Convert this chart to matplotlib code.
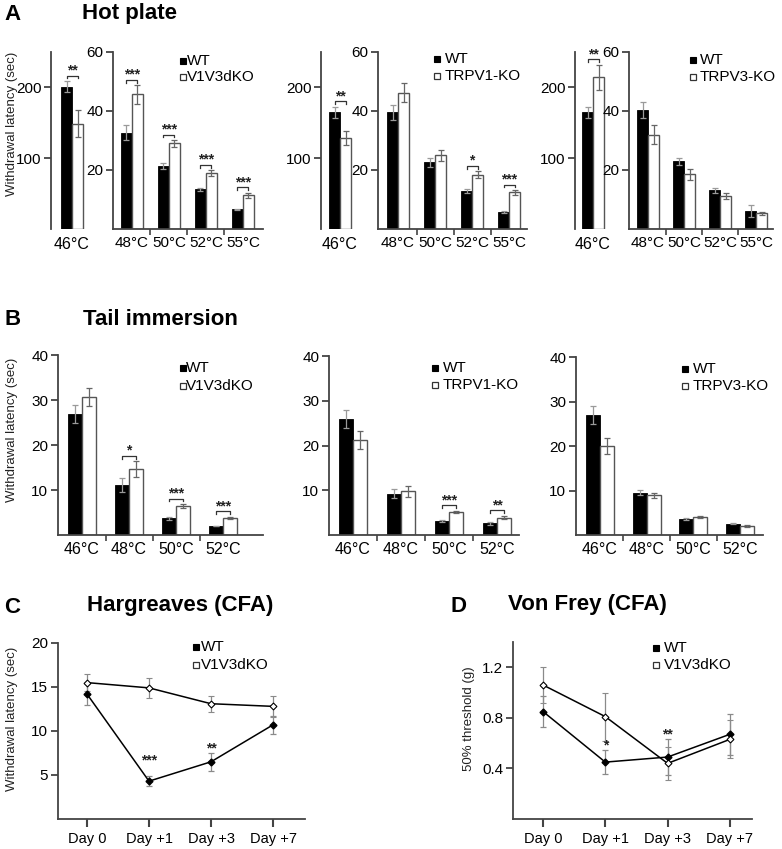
import matplotlib
matplotlib.use('Agg')
import matplotlib.pyplot as plt
from matplotlib.patches import Rectangle
import numpy as np

plt.rcParams['font.family'] = ['Liberation Sans', 'DejaVu Sans']

# ---------------- data ----------------
ko_names = ['V1V3dKO', 'TRPV1-KO', 'TRPV3-KO']

hot_low_cats = ['46°C']
hot_high_cats = ['48°C', '50°C', '52°C', '55°C']
tail_cats = ['46°C', '48°C', '50°C', '52°C']
days = ['Day 0', 'Day +1', 'Day +3', 'Day +7']

# Hot plate 46°C (per KO line)
hp46_wt = [201, 165, 165]
hp46_wt_err = [8, 8, 8]
hp46_ko = [149, 128, 214]
hp46_ko_err = [19, 10, 18]
hp46_sig = ['**', '**', '**']

# Hot plate 48-55°C
hp_wt = [[32.7, 21.4, 13.4, 6.7],
         [39.5, 22.6, 12.9, 5.8],
         [40.3, 23.0, 13.1, 6.1]]
hp_wt_err = [[2.5, 1.0, 0.5, 0.2],
             [2.7, 1.5, 0.7, 0.4],
             [2.7, 1.2, 0.8, 2.0]]
hp_ko = [[45.6, 29.0, 18.9, 11.4],
         [46.2, 25.0, 18.4, 12.4],
         [31.9, 18.6, 11.2, 5.3]]
hp_ko_err = [[3.1, 1.2, 1.0, 0.9],
             [3.3, 1.8, 1.2, 0.8],
             [3.2, 1.9, 1.0, 0.5]]
hp_sig = [['***', '***', '***', '***'],
          ['', '', '*', '***'],
          ['', '', '', '']]

# Tail immersion
tail_wt = [[27.0, 11.1, 3.7, 2.0],
           [26.0, 9.2, 3.2, 2.6],
           [26.9, 9.5, 3.6, 2.5]]
tail_wt_err = [[2.0, 1.5, 0.4, 0.1],
               [2.0, 1.0, 0.2, 0.3],
               [2.0, 0.6, 0.2, 0.1]]
tail_ko = [[30.7, 14.7, 6.4, 3.85],
           [21.3, 9.8, 5.2, 3.9],
           [20.0, 8.9, 4.1, 2.0]]
tail_ko_err = [[2.0, 1.7, 0.5, 0.2],
               [2.0, 1.2, 0.2, 0.4],
               [1.8, 0.6, 0.2, 0.2]]
tail_sig = [['', '*', '***', '***'],
            ['', '', '***', '**'],
            ['', '', '', '']]

# Hargreaves (CFA)
harg_wt = [14.2, 4.3, 6.5, 10.7]
harg_wt_err = [1.3, 0.6, 1.0, 1.0]
harg_ko = [15.5, 14.9, 13.1, 12.8]
harg_ko_err = [1.0, 1.1, 0.9, 1.2]
harg_sig = ['', '***', '**', '']
harg_sig_y = [0, 6.6, 8.0, 0]

# Von Frey (CFA)
vf_wt = [0.85, 0.45, 0.49, 0.67]
vf_wt_err = [0.12, 0.095, 0.14, 0.16]
vf_ko = [1.06, 0.81, 0.44, 0.63]
vf_ko_err = [0.14, 0.19, 0.13, 0.15]
vf_sig = ['', '*', '**', '']
vf_sig_y = [0, 0.58, 0.67, 0]

# ---------------- figure ----------------
W, H = 782, 849
fig = plt.figure(figsize=(W / 100, H / 100), dpi=100)

SPINE = '#444444'


def make_axes(left, right, top, bottom, center0, unit, bottom_spine=True):
    ax = fig.add_axes([left / W, 1 - bottom / H, (right - left) / W, (bottom - top) / H])
    ax.set_xlim(-(center0 - left) / unit, (right - center0) / unit)
    for s in ['top', 'right']:
        ax.spines[s].set_visible(False)
    for s in ['left', 'bottom']:
        ax.spines[s].set_color(SPINE)
        ax.spines[s].set_linewidth(1.3)
    if not bottom_spine:
        ax.spines['bottom'].set_visible(False)
    ax.tick_params(axis='y', labelsize=11, length=5, width=1.3, color=SPINE, pad=2)
    ax.tick_params(axis='x', labelsize=11, length=0, pad=4)
    ax.patch.set_alpha(0)
    return ax


def draw_bars(ax, cats, wt, wt_err, ko, ko_err, sig, width, yr, sep=True, star_fs=10):
    x = np.arange(len(cats))
    ax.bar(x - width / 2, wt, width, color='black', edgecolor='black', linewidth=0.6, zorder=2)
    ax.bar(x + width / 2, ko, width, color='white', edgecolor='#555555', linewidth=1.0, zorder=2)
    ax.errorbar(x - width / 2, wt, yerr=wt_err, fmt='none', ecolor='#9a9a9a',
                elinewidth=0.9, capsize=2, capthick=0.9, zorder=3)
    ax.errorbar(x + width / 2, ko, yerr=ko_err, fmt='none', ecolor='#666666',
                elinewidth=0.9, capsize=2, capthick=0.9, zorder=3)
    for i, s in enumerate(sig):
        if not s:
            continue
        top = max(wt[i] + wt_err[i], ko[i] + ko_err[i]) + 0.03 * yr
        ax.plot([x[i] - width / 2, x[i] - width / 2, x[i] + width / 2, x[i] + width / 2],
                [top - 0.015 * yr, top, top, top - 0.015 * yr], color='#333333', lw=0.9, zorder=3)
        ax.text(x[i], top - 0.01 * yr, s, ha='center', va='bottom', fontsize=star_fs,
                fontweight='bold', color='#222222')
    ax.set_xticks(x)
    ax.set_xticklabels(cats)
    if sep and len(cats) > 1:
        ax.set_xticks(x[:-1] + 0.5, minor=True)
        ax.tick_params(axis='x', which='minor', length=4, width=1.2, color=SPINE)


def legend_px(x_sq, x_txt, y_wt, y_ko, ko_label, fs=11):
    s = 6
    fig.add_artist(Rectangle(((x_sq) / W, 1 - (y_wt + s / 2) / H), s / W, s / H,
                             transform=fig.transFigure, facecolor='black', edgecolor='black', lw=0.8))
    fig.add_artist(Rectangle(((x_sq) / W, 1 - (y_ko + s / 2) / H), s / W, s / H,
                             transform=fig.transFigure, facecolor='white', edgecolor='#333333', lw=0.9))
    fig.text(x_txt / W, 1 - y_wt / H, 'WT', ha='left', va='center', fontsize=fs)
    fig.text(x_txt / W, 1 - y_ko / H, ko_label, ha='left', va='center', fontsize=fs)


def ftext(x, y, s, **kw):
    fig.text(x / W, 1 - y / H, s, **kw)


# ---------------- Panel A: Hot plate ----------------
A_top, A_bot = 52, 229
low_geo = [(51, 88, 72, 22), (321, 357, 340, 24), (575, 610, 593, 21)]
high_geo = [(113, 263, 132, 37), (378, 527, 398, 37), (629, 773, 648, 36)]
legA = [(180, 187, 61, 77), (434, 445, 59, 76), (690, 700, 60, 77)]

for k in range(3):
    l, r, c, u = low_geo[k]
    ax = make_axes(l, r, A_top, A_bot, c, u, bottom_spine=False)
    ax.set_ylim(0, 250)
    ax.set_yticks([100, 200])
    draw_bars(ax, hot_low_cats, [hp46_wt[k]], [hp46_wt_err[k]], [hp46_ko[k]], [hp46_ko_err[k]],
              [hp46_sig[k]], 11 / u, 250, sep=False)
    ax.tick_params(axis='x', labelsize=11.5, pad=6)

    l, r, c, u = high_geo[k]
    ax = make_axes(l, r, A_top, A_bot, c, u)
    ax.set_ylim(0, 60)
    ax.set_yticks([20, 40, 60])
    draw_bars(ax, hot_high_cats, hp_wt[k], hp_wt_err[k], hp_ko[k], hp_ko_err[k],
              hp_sig[k], 11 / u, 60)
    ax.tick_params(axis='x', labelsize=11, pad=5)
    legend_px(*legA[k], ko_names[k])

# ---------------- Panel B: Tail immersion ----------------
B_geo = [(58, 263, 355, 82, 47), (329, 519, 356, 353, 48), (576, 763, 357, 600, 46.7)]
B_bot = 535
legB = [(180, 186, 368, 386), (432, 443, 368, 385), (682, 693, 369, 386)]
for k in range(3):
    l, r, t, c, u = B_geo[k]
    ax = make_axes(l, r, t, B_bot, c, u)
    ax.set_ylim(0, 40)
    ax.set_yticks([10, 20, 30, 40])
    draw_bars(ax, tail_cats, tail_wt[k], tail_wt_err[k], tail_ko[k], tail_ko_err[k],
              tail_sig[k], 14 / u, 40)
    ax.tick_params(axis='x', labelsize=11.5, pad=5)
    legend_px(*legB[k], ko_names[k])


# ---------------- Panels C, D: line charts ----------------
def line_panel(ax, wt, wt_err, ko, ko_err, sig, sig_y):
    x = np.arange(len(days))
    ax.errorbar(x, wt, yerr=wt_err, fmt='-D', color='black', ms=3.5, mfc='black', mec='black',
                lw=1.1, ecolor='#8a8a8a', elinewidth=0.9, capsize=2, capthick=0.9, zorder=3)
    ax.errorbar(x, ko, yerr=ko_err, fmt='-D', color='black', ms=3.5, mfc='white', mec='black',
                mew=0.8, lw=1.1, ecolor='#8a8a8a', elinewidth=0.9, capsize=2, capthick=0.9, zorder=3)
    for i, s in enumerate(sig):
        if s:
            ax.text(x[i], sig_y[i], s, ha='center', va='center', fontsize=10,
                    fontweight='bold', color='#222222')
    ax.set_xticks(x)
    ax.set_xticklabels(days)
    ax.tick_params(axis='x', labelsize=10.5, length=6, width=1.5, color=SPINE, pad=3)


axC = make_axes(58, 305, 643, 819, 87, 62)
axC.set_ylim(0, 20)
axC.set_yticks([5, 10, 15, 20])
line_panel(axC, harg_wt, harg_wt_err, harg_ko, harg_ko_err, harg_sig, harg_sig_y)
legend_px(193, 201, 647, 665, 'V1V3dKO')

axD = make_axes(513, 752, 642, 819, 543, 62.3)
axD.set_ylim(0, 1.4)
axD.set_yticks([0.4, 0.8, 1.2])
axD.set_yticklabels(['0.4', '0.8', '1.2'])
line_panel(axD, vf_wt, vf_wt_err, vf_ko, vf_ko_err, vf_sig, vf_sig_y)
legend_px(653, 664, 648, 665, 'V1V3dKO')

# ---------------- titles and labels ----------------
tkw = dict(fontsize=16, fontweight='bold', ha='left', va='baseline')
ftext(4, 20, 'A', **tkw)
ftext(82, 19, 'Hot plate', **tkw)
ftext(4, 325, 'B', **tkw)
ftext(83, 325, 'Tail immersion', **tkw)
ftext(4, 613, 'C', **tkw)
ftext(87, 611, 'Hargreaves (CFA)', **tkw)
ftext(450, 612, 'D', **tkw)
ftext(508, 610, 'Von Frey (CFA)', **tkw)

ykw = dict(fontsize=9.5, rotation=90, ha='center', va='center', color='#222222')
ftext(12, 124, 'Withdrawal latency (sec)', **ykw)
ftext(12, 430, 'Withdrawal latency (sec)', **ykw)
ftext(12, 719, 'Withdrawal latency (sec)', **ykw)
ftext(469, 719, '50% threshold (g)', **ykw)

fig.savefig('out.png', dpi=100)
